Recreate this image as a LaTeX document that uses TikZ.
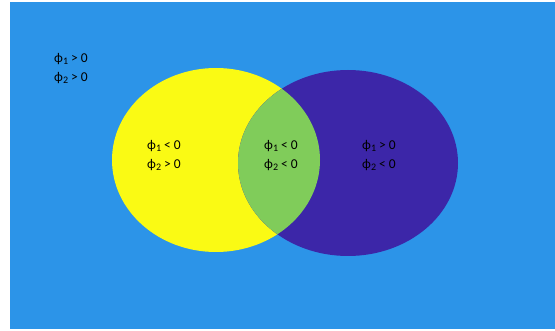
\documentclass[tikz,border=0pt]{standalone}
\usepackage{fontspec}
\setmainfont{Carlito}
\definecolor{skyback}{RGB}{44,148,232}
\definecolor{setA}{RGB}{250,250,20}
\definecolor{setB}{RGB}{60,38,168}
\definecolor{setAB}{RGB}{128,204,90}
\newcommand{\phisub}[1]{ϕ\raisebox{-2pt}{\fontsize{10}{10}\selectfont #1}}
\begin{document}
\begin{tikzpicture}[x=1pt,y=-1pt,
  sign/.style={align=center,font=\fontsize{13.5}{19}\selectfont,inner sep=0pt}]
  \useasboundingbox (0,0) rectangle (555,331);
  \fill[skyback] (10,2) rectangle (555,329);
  % the two level sets
  \fill[setA] (216,160) ellipse (104 and 92);
  \fill[setB] (348,163) ellipse (110 and 93);
  \begin{scope}
    \clip (216,160) ellipse (104 and 92);
    \fill[setAB] (348,163) ellipse (110 and 93);
  \end{scope}
  \node[sign] (out) at (71,68.5) {\phisub{1} > 0\\\phisub{2} > 0};
  \node[sign] (left) at (164,155.5) {\phisub{1} < 0\\\phisub{2} > 0};
  \node[sign] (mid) at (281,155.5) {\phisub{1} < 0\\\phisub{2} < 0};
  \node[sign] (right) at (379,155.5) {\phisub{1} > 0\\\phisub{2} < 0};
\end{tikzpicture}
\end{document}
